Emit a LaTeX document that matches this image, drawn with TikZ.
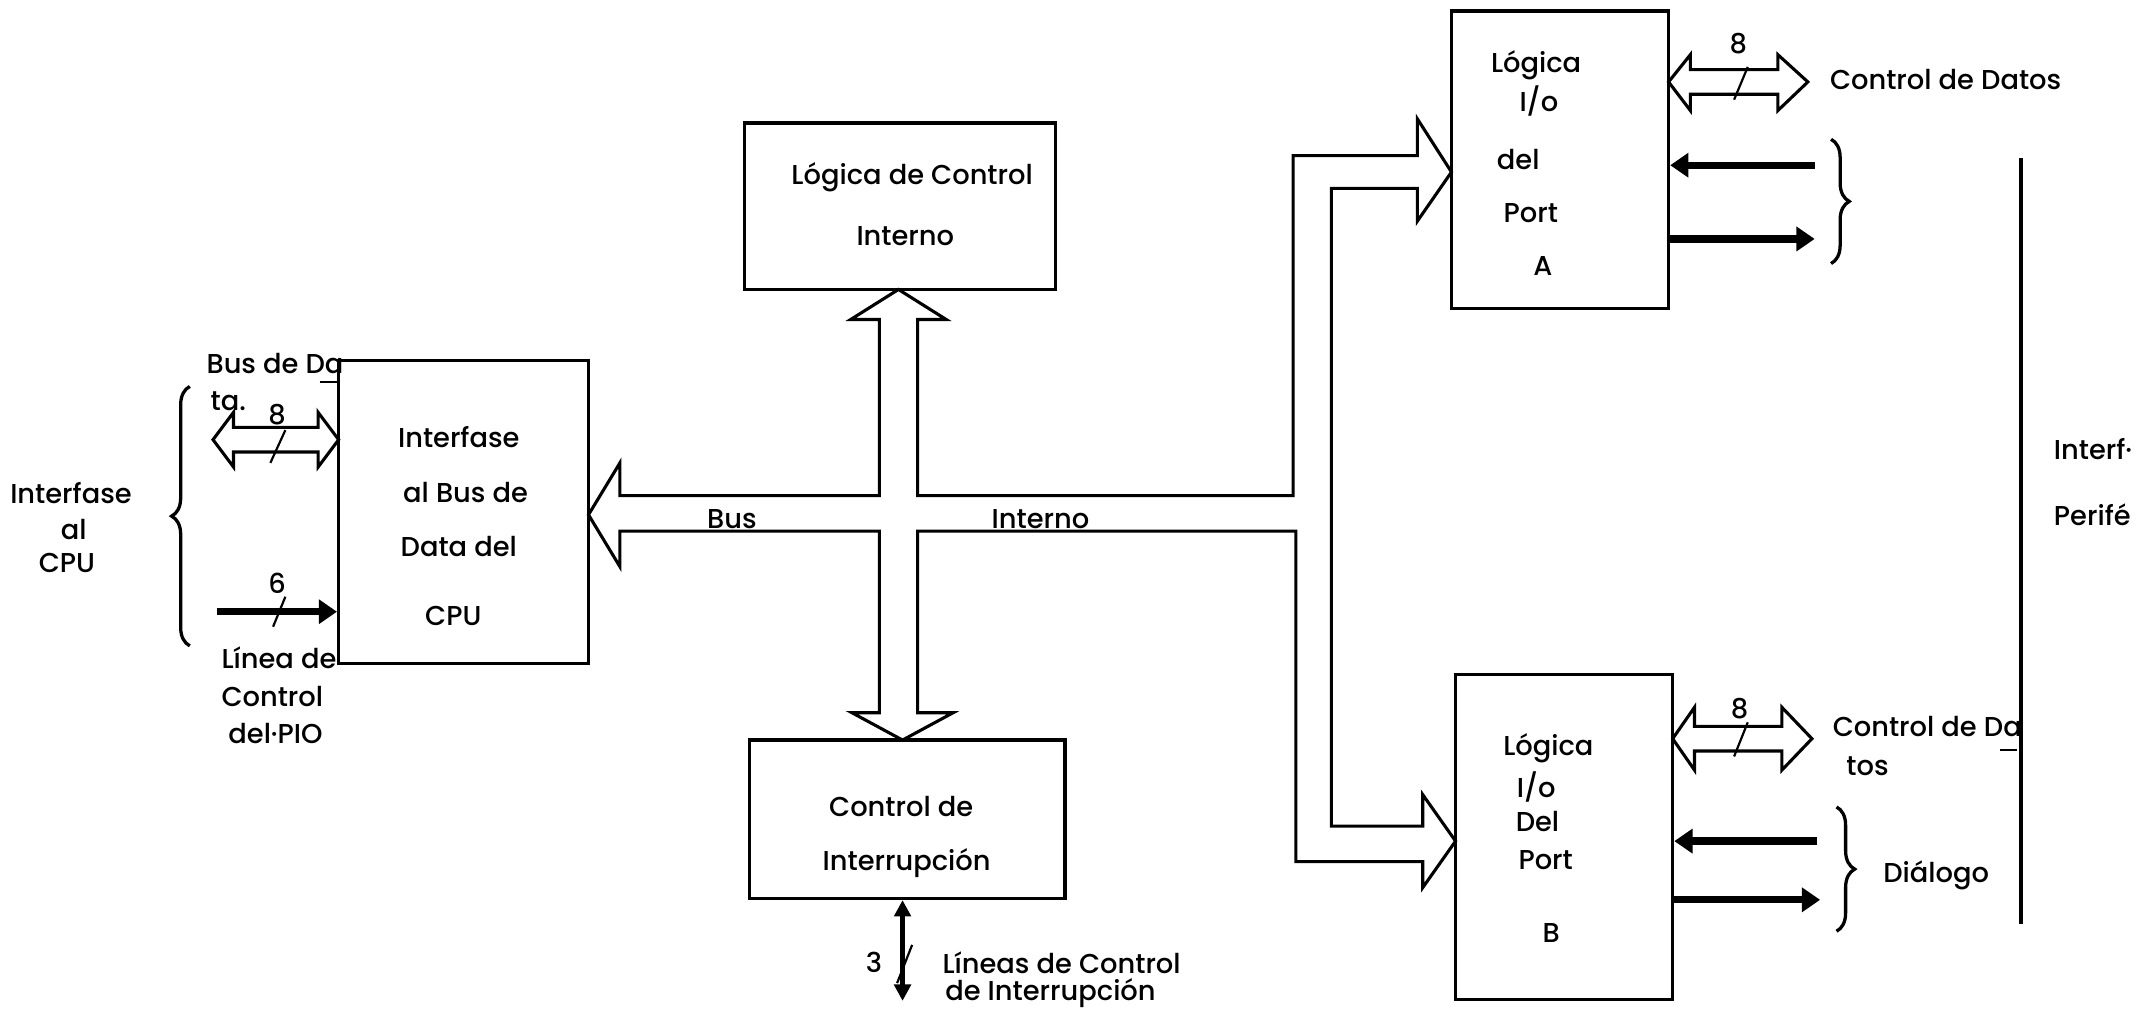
\documentclass[tikz,border=0pt]{standalone}
\usepackage{fontspec}
\setmainfont{Poppins}[UprightFont={* Medium}]
\usetikzlibrary{arrows.meta,fit,decorations.pathreplacing}
\tikzset{
  blk/.style={draw, line width=1.8pt, inner sep=0pt},
  txt/.style={inner sep=0.75pt, font=\fontsize{15}{17}\selectfont},
  sig/.style={line width=4pt, -{Triangle[length=10pt,width=13pt]}},
  sigboth/.style={line width=2.4pt, {Triangle[length=9pt,width=9pt]}-{Triangle[length=9pt,width=9pt]}},
  bus/.style={line width=1.7pt, line join=miter},
  tick/.style={line width=1.2pt},
  brc/.style={line width=1.8pt, decorate, decoration={brace, amplitude=10pt}},
}
\begin{document}
\begin{tikzpicture}[x=0.75pt,y=0.75pt,yscale=-1,xscale=1]
\useasboundingbox (0,0) rectangle (1568,743);

%Blocks
\node [blk, fit={(248,264) (431,486)}] (cpu) {};
\node [blk, fit={(545,90) (773,212)}] (lci) {};
\node [blk, fit={(549,542) (780,658)}] (ci) {};
\node [blk, fit={(1063,8) (1222,226)}] (pa) {};
\node [blk, fit={(1066,494) (1225,732)}] (pb) {};

%Internal bus (hollow)
\draw [bus] (454,363) -- (644,363) -- (644,234) -- (623,234) -- (658,212) -- (693,234) -- (672,234) -- (672,363)
  -- (947,363) -- (947,114) -- (1038,114) -- (1038,87) -- (1063,126) -- (1038,162) -- (1038,138) -- (975,138)
  -- (975,605) -- (1042,605) -- (1042,582) -- (1066,616) -- (1042,650) -- (1042,631) -- (949,631) -- (949,389)
  -- (672,389) -- (672,522) -- (698,522) -- (661,542) -- (624,522) -- (644,522) -- (644,389) -- (454,389)
  -- (454,415) -- (431,377) -- (454,339) -- cycle;

%Data bus CPU
\draw [bus] (156,322) -- (171,302) -- (171,313) -- (233,313) -- (233,302) -- (248,322) -- (233,342) -- (233,331) -- (171,331) -- (171,342) -- cycle;
\draw [tick] (198,339) -- (209,315);
%Data bus port A
\draw [bus] (1222,60) -- (1238,40) -- (1238,51) -- (1302,51) -- (1302,40) -- (1324,60) -- (1302,81) -- (1302,69) -- (1238,69) -- (1238,81) -- cycle;
\draw [tick] (1270,73) -- (1280,49);
%Data bus port B
\draw [bus] (1225,541) -- (1241,518) -- (1241,532) -- (1305,532) -- (1305,518) -- (1327,541) -- (1305,564) -- (1305,550) -- (1241,550) -- (1241,564) -- cycle;
\draw [tick] (1270,554) -- (1280,529);

%Control lines
\coordinate (c6) at (159,448);
\draw [sig] (c6) -- (c6 -| cpu.west);
\draw [tick] (200,459) -- (209,437);
\coordinate (pa1) at (1329,121);
\draw [sig] (pa1) -- (pa1 -| pa.east);
\coordinate (pa2) at (1329,175);
\draw [sig] (pa2 -| pa.east) -- (pa2);
\coordinate (pb1) at (1331,616);
\draw [sig] (pb1) -- (pb1 -| pb.east);
\coordinate (pb2) at (1333,659);
\draw [sig] (pb2 -| pb.east) -- (pb2);
\coordinate (irq) at (661,733);
\draw [sigboth] (ci.south -| irq) -- (irq);
\draw [tick] (657,720) -- (668,692);

%Braces and peripheral line
\draw [brc] (139,473) -- (139,283);
\draw [brc] (1341,102) -- (1341,193);
\draw [brc] (1345,591) -- (1345,682);
\draw [line width=1.8pt] (1480,116) -- (1480,677);
\draw [line width=1.2pt] (234,280) -- (248,280);
\draw [line width=1.2pt] (1465,549) -- (1477,549);

% Text Node
\draw (52,361) node [txt] (lcpua) {Interfase};
\draw (54,388) node [txt] (lcpub) {al};
\draw (49,412) node [txt] (lcpuc) {CPU};
\draw (150,266) node [txt, anchor=west] (ldba) {Bus de Da};
\draw (153,294) node [txt, anchor=west] (ldbb) {ta.};
\draw (203,304) node [txt] (ndb) {8};
\draw (203,427) node [txt] (nctl) {6};
\draw (161,482) node [txt, anchor=west] (llca) {Línea de};
\draw (161,510) node [txt, anchor=west] (llcb) {Control};
\draw (166,537) node [txt, anchor=west] (llcc) {del·PIO};
% Text Node
\draw (336,320) node [txt] (tcpua) {Interfase};
\draw (341,361) node [txt] (tcpub) {al Bus de};
\draw (336,400) node [txt] (tcpuc) {Data del};
\draw (332,451) node [txt] (tcpud) {CPU};
% Text Node
\draw (668,130) node [txt] (tlcia) {Lógica de Control};
\draw (663,173) node [txt] (tlcib) {Interno};
\draw (536,387) node [txt, anchor=base] (tbusa) {Bus};
\draw (762,387) node [txt, anchor=base] (tbusb) {Interno};
% Text Node
\draw (660,591) node [txt] (tcia) {Control de};
\draw (664,632) node [txt] (tcib) {Interrupción};
\draw (640,705) node [txt] (nirq) {3};
\draw (689,705) node [txt, anchor=west] (lirqa) {Líneas de Control};
\draw (691,727) node [txt, anchor=west] (lirqb) {de Interrupción};
% Text Node
\draw (1125,48) node [txt] (tpaa) {Lógica};
\draw (1127,74) node [txt] (tpab) {I/o};
\draw (1095,117) node [txt, anchor=west] (tpac) {del};
\draw (1100,156) node [txt, anchor=west] (tpad) {Port};
\draw (1130,195) node [txt] (tpae) {A};
\draw (1273,32) node [txt] (npa) {8};
\draw (1339,58) node [txt, anchor=west] (lpa) {Control de Datos};
% Text Node
\draw (1134,548) node [txt] (tpba) {Lógica};
\draw (1125,576) node [txt] (tpbb) {I/o};
\draw (1126,602) node [txt] (tpbc) {Del};
\draw (1132,630) node [txt] (tpbd) {Port};
\draw (1136,683) node [txt] (tpbe) {B};
\draw (1274,519) node [txt] (npb) {8};
\draw (1341,532) node [txt, anchor=west] (lpba) {Control de Da};
\draw (1351,561) node [txt, anchor=west] (lpbb) {tos};
\draw (1418,641) node [txt] (lpbc) {Diálogo};
\draw (1503,329) node [txt, anchor=west] (lpera) {Interf·};
\draw (1503,377) node [txt, anchor=west] (lperb) {Perifé};

\end{tikzpicture}
\end{document}
